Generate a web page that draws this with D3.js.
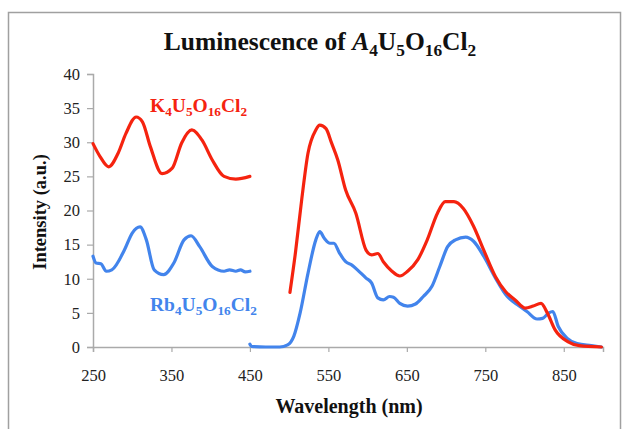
<!DOCTYPE html>
<html>
<head>
<meta charset="utf-8">
<script src="https://cdn.jsdelivr.net/npm/d3@7"></script>
<style>
  body { margin: 0; background: #fff; }
  text { font-family: "Liberation Serif", "Times New Roman", serif; }
</style>
</head>
<body>
<div id="chart"></div>
<script>
// K4U5O16Cl2, excitation part (left) and emission part (right)
var kExNm  = [250, 259, 270, 282, 292, 305, 313, 323, 338, 351, 363, 376, 389, 402, 417, 432, 450];
var kExVal = [29.8, 27.9, 26.4, 28.4, 31.3, 33.7, 33.0, 29.4, 25.4, 26.2, 29.9, 31.8, 30.3, 27.4, 25.0, 24.6, 25.0];
var kEmNm  = [501, 508, 516, 524, 534, 539, 547, 554, 562, 572, 585, 598, 605, 613, 620, 631, 641, 651, 664, 676, 689, 699, 710, 722, 735, 748, 763, 776, 788, 801, 811, 821, 829, 839, 855, 870, 898];
var kEmVal = [8.0, 13.8, 21.6, 28.4, 31.8, 32.5, 32.0, 29.9, 27.4, 23.0, 19.6, 14.2, 13.5, 13.7, 12.5, 11.1, 10.4, 11.1, 12.8, 15.7, 19.6, 21.3, 21.3, 20.3, 17.7, 14.2, 10.3, 8.1, 6.9, 5.7, 6.0, 6.4, 5.0, 2.5, 0.8, 0.2, 0];

// Rb4U5O16Cl2
var rbExNm  = [250, 254, 260, 267, 274, 290, 300, 310, 318, 328, 340, 353, 366, 375, 386, 402, 417, 424, 432, 438, 444, 450];
var rbExVal = [13.3, 12.3, 12.2, 11.1, 11.3, 14.2, 16.7, 17.6, 15.7, 11.3, 10.6, 12.3, 15.7, 16.3, 14.7, 11.8, 11.1, 11.3, 11.1, 11.3, 11.0, 11.1];
var rbEmNm  = [450, 452, 470, 488, 498, 506, 514, 524, 534, 539, 545, 552, 557, 564, 572, 580, 587, 598, 605, 613, 620, 628, 633, 641, 651, 661, 671, 682, 692, 702, 712, 725, 735, 748, 763, 778, 791, 803, 816, 823, 831, 836, 843, 854, 867, 885, 898];
var rbEmVal = [0.4, 0.1, 0.0, 0.0, 0.3, 1.6, 5.0, 10.8, 15.7, 16.9, 15.9, 15.2, 15.2, 13.8, 12.5, 12.0, 11.3, 10.1, 9.4, 7.2, 6.9, 7.4, 7.3, 6.4, 6.0, 6.3, 7.4, 8.9, 11.8, 14.7, 15.7, 16.1, 15.5, 13.3, 10.1, 7.4, 6.2, 5.2, 4.1, 4.2, 5.0, 5.2, 3.0, 1.3, 0.5, 0.2, 0];

var xTicks = [250, 350, 450, 550, 650, 750, 850];
var yTicks = [0, 5, 10, 15, 20, 25, 30, 35, 40];

var width = 627, height = 429;
var margin = { top: 74, right: 24, bottom: 82, left: 93 };
var red = '#f5230f', blue = '#4284ec';

var svg = d3.select('#chart').append('svg')
    .attr('width', width)
    .attr('height', height);

// outer frame
svg.append('rect')
    .attr('x', 8.5).attr('y', 12.5)
    .attr('width', 612).attr('height', 440)
    .attr('fill', 'none')
    .attr('stroke', '#a0a0a0')
    .attr('stroke-width', 1.5);

var xScale = d3.scaleLinear()
    .domain([250, 900])
    .range([margin.left, width - margin.right]);

var yScale = d3.scaleLinear()
    .domain([0, 40])
    .range([height - margin.bottom, margin.top]);

var xAxis = svg.append('g')
    .attr('transform', 'translate(0,' + yScale(0) + ')')
    .call(d3.axisBottom(xScale).tickValues(xTicks).tickSizeOuter(0).tickSize(5).tickPadding(17));

var yAxis = svg.append('g')
    .attr('transform', 'translate(' + xScale(250) + ',0)')
    .call(d3.axisLeft(yScale).tickValues(yTicks).tickSizeOuter(0).tickSize(6).tickPadding(7));

[xAxis, yAxis].forEach(function(ax) {
  ax.select('.domain').attr('stroke', '#aaa').attr('stroke-width', 1.5);
  ax.selectAll('.tick line').attr('stroke', '#aaa').attr('stroke-width', 1.2);
  ax.selectAll('.tick text')
      .attr('fill', '#222')
      .style('font-size', '16.5px')
      .style('font-family', '"Liberation Serif", serif');
});

var line = d3.line()
    .x(function(d) { return xScale(d[0]); })
    .y(function(d) { return yScale(d[1]); })
    .curve(d3.curveMonotoneX);

function drawSeries(nm, vals, color) {
  svg.append('path')
      .datum(d3.zip(nm, vals))
      .attr('d', line)
      .attr('fill', 'none')
      .attr('stroke', color)
      .attr('stroke-width', 3.2)
      .attr('stroke-linejoin', 'round')
      .attr('stroke-linecap', 'round');
}

drawSeries(rbExNm, rbExVal, blue);
drawSeries(rbEmNm, rbEmVal, blue);
drawSeries(kExNm, kExVal, red);
drawSeries(kEmNm, kEmVal, red);

// text with chemical subscripts: parts = [[text, isSub, isItalic], ...]
function formula(g, parts, size) {
  var prev = 0;
  parts.forEach(function(p) {
    var want = p[1] ? size * 0.22 : 0;
    var t = g.append('tspan').text(p[0])
        .style('font-size', (p[1] ? size * 0.68 : size) + 'px')
        .attr('dy', want - prev);
    if (p[2]) t.style('font-style', 'italic');
    prev = want;
  });
}

var title = svg.append('text')
    .attr('x', 320).attr('y', 50)
    .attr('text-anchor', 'middle')
    .attr('font-weight', 'bold')
    .attr('fill', '#111');
formula(title, [['Luminescence of '], ['A', false, true], ['4', true], ['U'], ['5', true], ['O'], ['16', true], ['Cl'], ['2', true]], 25.5);

var kLabel = svg.append('text')
    .attr('x', 150).attr('y', 112)
    .attr('font-weight', 'bold')
    .attr('fill', red);
formula(kLabel, [['K'], ['4', true], ['U'], ['5', true], ['O'], ['16', true], ['Cl'], ['2', true]], 19.5);

var rbLabel = svg.append('text')
    .attr('x', 150).attr('y', 311)
    .attr('font-weight', 'bold')
    .attr('fill', blue);
formula(rbLabel, [['Rb'], ['4', true], ['U'], ['5', true], ['O'], ['16', true], ['Cl'], ['2', true]], 19.5);

svg.append('text')
    .attr('x', 349).attr('y', 413)
    .attr('text-anchor', 'middle')
    .attr('font-weight', 'bold')
    .style('font-size', '20px')
    .attr('fill', '#111')
    .text('Wavelength (nm)');

svg.append('text')
    .attr('transform', 'translate(46,212) rotate(-90)')
    .attr('text-anchor', 'middle')
    .attr('font-weight', 'bold')
    .style('font-size', '18.5px')
    .attr('fill', '#111')
    .text('Intensity (a.u.)');
</script>
</body>
</html>
